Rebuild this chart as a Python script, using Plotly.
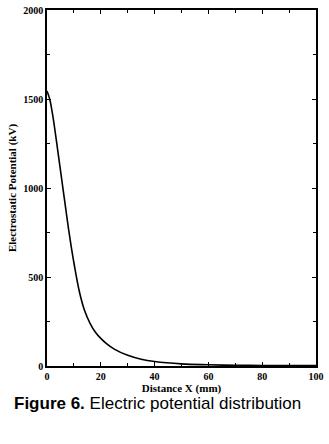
import plotly.graph_objects as go

distance_mm = [0, 1, 2, 3, 4, 5, 6, 7, 8, 9, 10, 12, 14, 16, 18, 20, 22, 25, 30, 35, 40, 50, 60, 70, 80, 90, 100]
potential_kv = [1545, 1500, 1420, 1320, 1210, 1100, 990, 880, 770, 670, 580, 420, 310, 240, 190, 155, 127, 95, 60, 38, 25, 12, 7, 4, 3, 2, 2]

x_ticks = [0, 20, 40, 60, 80, 100]
y_ticks = [0, 500, 1000, 1500, 2000]

fig = go.Figure()
fig.add_trace(go.Scatter(x=distance_mm, y=potential_kv, mode="lines",
                         line=dict(color="black", width=1.6, shape="spline")))

serif = "Liberation Serif"
fig.update_layout(
    width=329, height=444,
    margin=dict(l=47, r=13, t=10, b=78, autoexpand=False),
    paper_bgcolor="white", plot_bgcolor="white",
    showlegend=False,
    font=dict(family=serif, color="black"),
)
fig.update_xaxes(
    range=[0, 100], tickvals=x_ticks, ticktext=[f"<b>{v}</b>" for v in x_ticks],
    ticks="inside", ticklen=4, tickwidth=1, tickcolor="black",
    minor=dict(dtick=10, ticks="inside", ticklen=3, tickcolor="black"),
    showline=True, linecolor="black", linewidth=1.5, mirror="ticks",
    showgrid=False, zeroline=False, automargin=False,
    tickfont=dict(size=10, family=serif),
    title=dict(text="<b>Distance X (mm)</b>", font=dict(size=11, family=serif), standoff=0),
)
fig.update_yaxes(
    range=[0, 2000], tickvals=y_ticks, ticktext=[f"<b>{v}</b>" for v in y_ticks],
    ticks="inside", ticklen=4, tickwidth=1, tickcolor="black",
    minor=dict(dtick=250, ticks="inside", ticklen=3, tickcolor="black"),
    showline=True, linecolor="black", linewidth=1.5, mirror="ticks",
    showgrid=False, zeroline=False, automargin=False,
    tickfont=dict(size=10, family=serif),
    title=dict(text="<b>Electrostatic Potential (kV)</b>", font=dict(size=11, family=serif), standoff=4),
)
fig.add_annotation(
    text="<b>Figure 6.</b> Electric potential distribution",
    xref="paper", yref="paper", x=(157 - 47) / 269, y=0, yshift=-37, xanchor="center", yanchor="middle",
    showarrow=False, font=dict(size=17, family="Liberation Sans", color="black"),
)
fig.write_html("out.html", config={"displayModeBar": False},
               post_script="document.body.style.margin='0';document.body.style.overflow='hidden';")
